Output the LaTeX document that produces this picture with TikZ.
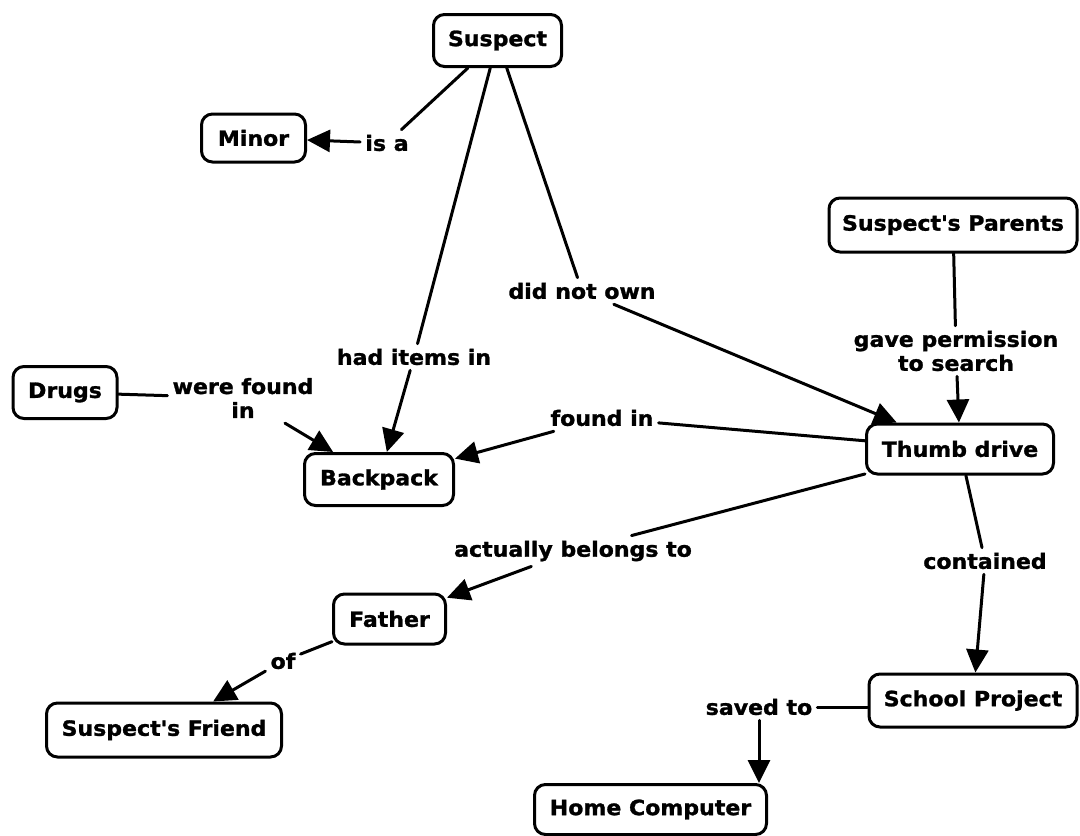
\documentclass[tikz,border=0pt]{standalone}
\usepackage{fontspec}
\setmainfont{DejaVu Sans}[FakeStretch=1.05, BoldFeatures={FakeBold=1.3}]
\usetikzlibrary{arrows.meta}
\begin{document}
\begin{tikzpicture}[x=1pt,y=-1pt,
  font=\fontsize{21}{24}\selectfont\bfseries,
  concept/.style args={#1x#2}{draw=black, line width=3pt, rounded corners=11pt,
    minimum width=#1pt, minimum height=#2pt, inner sep=0pt, fill=white},
  linker/.style={inner sep=5pt, align=center},
  link/.style={line width=3pt, line cap=round},
  arrowlink/.style={link, -{Triangle[length=23pt,width=22pt]}}
]
\useasboundingbox (0,0) rectangle (1080,836);

% concepts
\node[concept=128x52] (suspect)  at (497.5,40.5) {Suspect};
\node[concept=104x48] (minor)    at (253.5,138)  {Minor};
\node[concept=104x52] (drugs)    at (65,392.5)   {Drugs};
\node[concept=149x52] (backpack) at (379,479.5)  {Backpack};
\node[concept=248x54] (parents)  at (953,225)    {Suspect\textquotesingle s Parents};
\node[concept=187x50] (thumb)    at (960,449)    {Thumb drive};
\node[concept=112x50] (father)   at (389.5,619)  {Father};
\node[concept=235x54] (friend)   at (164,730)    {Suspect\textquotesingle s Friend};
\node[concept=208x53] (school)   at (973,700.5)  {School Project};
\node[concept=232x50] (home)     at (650.5,809.5){Home Computer};

% linking phrases
\node[linker] (isa)      at (387,143)  {is a};
\node[linker] (hadin)    at (414,357)  {had items in};
\node[linker] (notown)   at (582,291)  {did not own};
\node[linker] (perm)     at (956,351)  {gave permission\\to search};
\node[linker] (found)    at (243,398)  {were found\\in};
\node[linker] (foundin)  at (602,418)  {found in};
\node[linker] (belongs)  at (573,551)  {actually belongs to};
\node[linker] (contain)  at (985,561)  {contained};
\node[linker] (of)       at (283,661)  {of};
\node[linker] (savedto)  at (759,707)  {saved to};

% propositions
\draw[link] (suspect) -- (isa);
\draw[arrowlink] (isa) -- (minor);

\draw[link] (suspect) -- (hadin);
\draw[arrowlink] (hadin) -- (backpack);

\draw[link] (suspect) -- (notown);
\draw[arrowlink] (notown) -- (thumb);

\draw[link] (parents) -- (perm);
\draw[arrowlink] (perm) -- (thumb);

\draw[link] (drugs) -- (found);
\draw[arrowlink] (found) -- (backpack);

\draw[link] (thumb) -- (foundin);
\draw[arrowlink] (foundin) -- (backpack);

\draw[link] (thumb) -- (belongs);
\draw[arrowlink] (belongs) -- (father);

\draw[link] (thumb) -- (contain);
\draw[arrowlink] (contain) -- (school);

\draw[link] (father) -- (of);
\draw[arrowlink] (of) -- (friend);

\draw[link] (school.west |- savedto.east) -- (savedto.east);
\draw[arrowlink] (savedto.south) -- (savedto.south |- home.north);
\end{tikzpicture}
\end{document}
